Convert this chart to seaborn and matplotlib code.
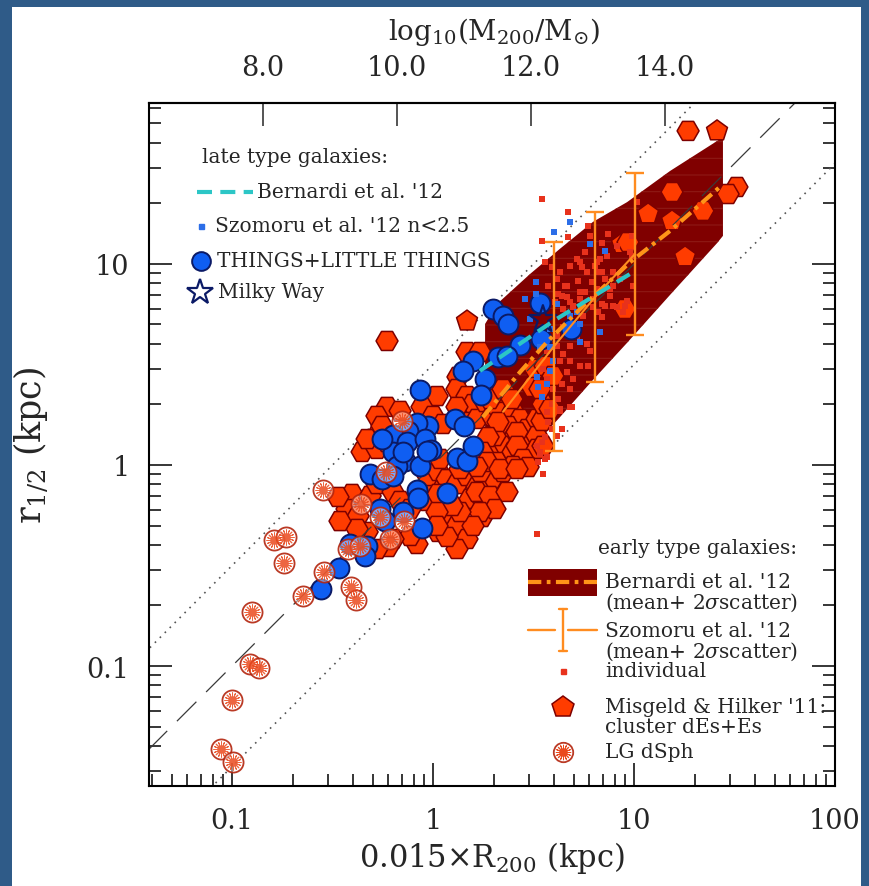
import numpy as np
import pandas as pd
import matplotlib
matplotlib.use("Agg")
import matplotlib.pyplot as plt
import seaborn as sns
from matplotlib.patches import Rectangle
from matplotlib.ticker import FixedLocator, FixedFormatter, LogLocator, NullLocator

# ---------------------------------------------------------------- data (dex)
# Misgeld & Hilker '11 cluster dEs + Es: log10(0.015 R200 / kpc), log10(r1/2 / kpc)
mh_log_r200 = [
    -0.353, -0.279, -0.279, -0.403, -0.428, -0.373, -0.313, -0.279, -0.199, -0.164,
    -0.114, -0.030, -0.005, -0.025, 0.025, 0.070, 0.119, 0.169, 0.244, 0.284,
    0.219, 0.184, 0.244, 0.284, 0.244, 0.085, 0.070, 0.119, 0.169, 0.119,
    0.025, 0.070, -0.080, -0.114, -0.199, -0.224, -0.279, -0.328, -0.378, -0.328,
    -0.229, 0.269, 0.294, 0.234, 0.134, 0.035, -0.229, -0.279, -0.254, 0.020,
    -0.055, 0.000, 0.050, 0.169, 0.124, 0.119, 0.169, 0.199, 0.169, 0.219,
    0.259, 0.294, 0.299, 0.119, -0.229, 0.169, -0.164, 0.308, 0.333, 0.398,
    0.433, 0.373, 0.468, 0.517, 0.398, 0.473, 0.517, 0.343, 0.308, 0.269,
    0.318, 0.398, 0.348, 0.234, 0.219, 0.284, 0.368, 0.308, 0.234, 0.199,
    0.134, 0.095, 0.025, 0.020, 0.020, 0.418, 0.517, 0.234, 0.284, 0.348,
    0.393, 0.323, 0.274, 0.418, 0.244, 0.448, 0.398, 0.473, 0.547, 0.542,
    0.547, 0.582, 0.507, 0.557, 0.597, 0.493, 0.532, 0.269, 0.333, 0.418,
    0.219, 1.269, 1.413, 1.512, 1.468, 1.189, 1.070, 1.189, 1.343, 0.940,
    0.970, 1.254, 0.955, -0.473, -0.463,
]
mh_log_rhalf = [
    0.065, 0.144, 0.080, -0.144, -0.219, -0.254, -0.154, -0.095, -0.134, -0.179,
    -0.219, -0.179, -0.109, -0.055, -0.030, -0.070, -0.095, -0.055, -0.045, -0.085,
    -0.109, -0.169, -0.169, -0.204, -0.259, -0.234, -0.279, -0.303, -0.368, -0.418,
    -0.333, -0.358, -0.393, -0.353, -0.368, -0.408, -0.418, -0.333, -0.318, 0.129,
    0.114, 0.095, 0.045, 0.015, -0.020, 0.030, 0.289, 0.244, 0.194, 0.343,
    0.289, 0.244, 0.204, 0.562, 0.438, 0.378, 0.343, 0.303, 0.214, 0.229,
    0.313, 0.244, 0.328, 0.289, 0.617, 0.716, 0.269, 0.343, 0.264, 0.269,
    0.229, 0.194, 0.179, 0.229, 0.129, 0.114, 0.144, 0.095, 0.144, 0.065,
    0.015, 0.065, -0.035, -0.035, -0.134, -0.154, -0.134, -0.219, -0.234, -0.303,
    -0.234, -0.204, -0.144, -0.234, -0.303, 0.164, 0.080, 0.562, 0.328, 0.378,
    0.328, 0.214, 0.139, 0.095, 0.065, 0.030, -0.005, -0.010, 0.095, 0.219,
    0.303, 0.279, 0.478, 0.493, 0.443, 0.388, 0.378, 0.015, -0.020, -0.020,
    -0.010, 1.662, 1.662, 1.383, 1.348, 1.358, 1.249, 1.214, 1.264, 1.100,
    1.109, 1.035, 0.776, -0.159, -0.279,
]
mh_morph = ["dE"] * len(mh_log_r200)
for i in (65, 122, 126, 127, 129, 131):
    mh_morph[i] = "E"

# THINGS + LITTLE THINGS late-type dwarfs and spirals
things_log_r200 = [
    0.299, 0.348, 0.373, 0.433, 0.323, 0.368, 0.199, 0.149, 0.259, 0.239,
    0.532, 0.537, 0.687, -0.065, 0.109, 0.154, -0.025, -0.080, -0.124, -0.199,
    -0.129, -0.040, -0.010, -0.199, -0.139, -0.065, -0.254, 0.119, 0.169, 0.199,
    0.070, -0.080, -0.075, -0.055, -0.149, -0.264, -0.239, -0.179, -0.313, -0.254,
    -0.199, -0.413, -0.328, -0.338, -0.468, -0.557, -0.149, -0.030,
]
things_log_rhalf = [
    0.776, 0.741, 0.701, 0.597, 0.537, 0.542, 0.517, 0.468, 0.428, 0.348,
    0.806, 0.627, 0.677, 0.373, 0.229, 0.194, 0.194, 0.209, 0.169, 0.149,
    0.114, 0.129, 0.075, 0.065, 0.020, -0.005, 0.129, 0.035, 0.020, 0.095,
    -0.139, -0.124, -0.164, -0.313, -0.234, -0.219, -0.279, -0.005, -0.045, -0.070,
    -0.055, -0.393, -0.403, -0.453, -0.512, -0.617, 0.065, 0.070,
]

# Local Group dwarf spheroidals
dsph_log_r200 = [
    -1.055, -0.995, -1.000, -0.910, -0.866, -0.900, -0.791, -0.731, -0.741, -0.647,
    -0.542, -0.408, -0.383, -0.547, -0.423, -0.363, -0.358, -0.264, -0.234, -0.214,
    -0.144, -0.154,
]
dsph_log_rhalf = [
    -1.413, -1.478, -1.169, -0.990, -1.010, -0.731, -0.373, -0.358, -0.488, -0.652,
    -0.532, -0.607, -0.672, -0.124, -0.418, -0.403, -0.194, -0.259, -0.035, -0.368,
    -0.279, 0.219,
]

# Szomoru et al. '12 individual galaxies: late type (n<2.5)
szo_late_log_r200 = [
    0.682, 0.602, 0.781, 0.856, 0.512, 0.512, 0.617, 0.582, 0.532, 0.582,
    0.597, 0.582, 0.567, 0.522, 0.517, 0.542, 0.731, 0.831, 0.731, 0.682,
    0.716, 0.458, 0.483,
]
szo_late_log_rhalf = [
    1.209, 1.159, 1.100, 1.065, 0.910, 0.851, 0.801, 0.677, 0.587, 0.587,
    0.517, 0.468, 0.403, 0.388, 0.438, 0.338, 0.701, 0.662, 0.612, 0.741,
    0.761, 0.826, 0.726,
]

# Szomoru et al. '12 individual galaxies: early type
szo_early_log_r200 = [
    0.622, 0.667, 0.682, 0.647, 0.697, 0.731, 0.756, 0.841, 0.881, 0.915,
    0.965, 0.692, 0.647, 0.617, 0.716, 0.766, 0.781, 0.682, 0.647, 0.617,
    0.567, 0.632, 0.682, 0.731, 0.771, 0.667, 0.697, 0.642, 0.597, 0.567,
    0.547, 0.682, 0.622, 0.592, 0.567, 0.682, 0.632, 0.572, 0.592, 0.557,
    0.542, 0.532, 0.567, 0.522, 0.617, 0.642, 0.841, 0.796, 0.542, 0.672,
    0.542, 0.672, 0.771, 0.557, 0.592, 0.632, 0.731, 0.766, 0.806, 0.831,
    0.866, 0.821, 0.856, 0.896, 0.930, 0.721, 0.667, 0.617, 0.572, 0.915,
    0.990, 1.015, 0.896, 0.642, 0.731, 0.796, 0.697, 0.607, 0.995, 0.945,
    0.896, 0.821, 0.746, 0.990, 0.781, 0.871, 0.841, 0.756, 0.716, 0.741,
    0.816, 0.841, 0.682, 0.791, 0.657, 0.816, 0.881, 0.955, 0.856, 0.980,
    0.547, 0.532, 0.517, 0.557, 0.517, 0.692, 0.632,
]
szo_early_log_rhalf = [
    0.851, 0.836, 0.811, 0.776, 0.786, 0.826, 0.861, 0.801, 0.841, 0.786,
    0.816, 0.711, 0.687, 0.642, 0.642, 0.602, 0.567, 0.592, 0.552, 0.592,
    0.567, 0.517, 0.517, 0.493, 0.493, 0.463, 0.428, 0.403, 0.378, 0.428,
    0.478, 0.378, 0.328, 0.303, 0.264, 0.289, 0.279, 0.214, 0.179, 0.139,
    0.114, 0.065, 0.040, 0.015, 0.144, 0.179, 0.736, 0.786, 1.323, 1.259,
    1.114, 1.134, 1.189, 1.010, 0.985, 0.960, 1.010, 0.960, 0.990, 1.025,
    1.040, 0.960, 0.925, 0.960, 0.925, 0.915, 0.891, 0.925, 0.891, 1.090,
    1.040, 1.308, 0.891, 0.841, 0.861, 0.826, 0.791, 0.811, 0.891, 0.761,
    0.791, 0.761, 0.741, 1.139, 1.139, 1.149, 1.104, 1.060, 1.025, 0.985,
    1.010, 0.960, 0.990, 0.910, 0.891, 0.876, 0.876, 0.791, 0.791, 1.060,
    -0.045, 0.055, -0.343, 0.030, 0.095, 0.289, 0.269,
]

# Szomoru et al. '12 binned mean + 2 sigma scatter (kpc)
szo_bin_r200 = [4.0, 6.4, 10.1]
szo_bin_mean = [3.9, 6.85, 11.2]
szo_bin_low = [1.17, 2.59, 4.43]
szo_bin_high = [12.9, 18.1, 28.4]
szo_line_r200 = [2.23, 4.0, 6.4, 10.1]
szo_line_rhalf = [1.84, 3.9, 6.85, 11.2]

# Bernardi et al. '12 early types: mean and 2 sigma envelope (kpc)
bern_band_r200 = [1.815, 2.08, 3.04, 4.28, 6.25, 9.23, 15.1, 25.9, 27.7]
bern_band_upper = [5.03, 6.32, 8.92, 11.9, 16.2, 20.3, 29.0, 40.9, 42.8]
bern_band_lower = [0.67, 0.78, 1.19, 1.73, 2.65, 4.05, 7.01, 12.7, 13.8]
bern_early_r200 = [1.77, 2.71, 3.69, 5.39, 9.55, 15.1, 26.8]
bern_early_rhalf = [1.73, 2.90, 4.09, 5.97, 10.2, 14.6, 24.2]

# Bernardi et al. '12 late types: mean relation (kpc)
bern_late_r200 = [1.71, 4.0, 9.9]
bern_late_rhalf = [2.94, 5.23, 9.12]

# Milky Way
mw_r200 = [3.52]
mw_rhalf = [5.30]

# r1/2 = 0.015 R200 and its +-0.5 dex envelope
ref_r200 = [0.01, 1000.0]
ref_offset_dex = 0.5

# Axis ticks
x_ticks = [0.1, 1, 10, 100]
x_tick_labels = ["0.1", "1", "10", "100"]
y_ticks = [0.1, 1, 10]
y_tick_labels = ["0.1", "1", "10"]
logm_ticks = [8.0, 10.0, 12.0, 14.0]
logm_tick_labels = ["8.0", "10.0", "12.0", "14.0"]
LOGM_ZERO = 10.537   # log10(M200/Msun) where 0.015 R200 = 1 kpc

# ---------------------------------------------------------------- style
FRAME_BLUE = "#2f5b88"
MAROON = "#800000"
BAND_LINE = "#8e1a16"
HEX_FILL = "#ff3c00"
HEX_EDGE = "#7d0000"
BLUE_FILL = "#0f5ef2"
NAVY = "#0b1a66"
SQ_RED = "#e8321c"
SQ_BLUE = "#2c6ee8"
ORANGE = "#ff9418"
ERR_ORANGE = "#ff8c20"
CYAN = "#2cc6c6"
DSPH_EDGE = (0.70, 0.14, 0.05, 0.9)
DSPH_SPOKE = "#ea4a1e"

sns.set_style("ticks")
plt.rcParams["font.family"] = ["DejaVu Serif"]
plt.rcParams["mathtext.fontset"] = "dejavuserif"
plt.rcParams["hatch.color"] = BAND_LINE
plt.rcParams["hatch.linewidth"] = 0.8

TICK_FS = 19.5
LABEL_FS = 22
LEG_FS = 14.5


def to_df(lx, ly, **extra):
    d = pd.DataFrame({"r200": 10 ** np.asarray(lx), "rhalf": 10 ** np.asarray(ly)})
    for k, v in extra.items():
        d[k] = v
    return d


mh = to_df(mh_log_r200, mh_log_rhalf, morph=mh_morph)
things = to_df(things_log_r200, things_log_rhalf)
dsph = to_df(dsph_log_r200, dsph_log_rhalf)
szo_late = to_df(szo_late_log_r200, szo_late_log_rhalf)
szo_early = to_df(szo_early_log_r200, szo_early_log_rhalf)

# ---------------------------------------------------------------- figure
fig = plt.figure(figsize=(8.7, 8.87), dpi=100)
fig.patch.set_facecolor(FRAME_BLUE)
fig.add_artist(Rectangle((12 / 870, 0), 849 / 870, 879 / 887, transform=fig.transFigure,
                         facecolor="white", edgecolor="none", zorder=-10))
ax = fig.add_axes([149 / 870, 100 / 887, 686 / 870, 683 / 887])
ax.set_facecolor("white")
ax.set_xscale("log")
ax.set_yscale("log")
ax.set_xlim(0.0386, 100)
ax.set_ylim(0.0253, 63.2)

# Bernardi early-type envelope (line-filled, as drawn by the plotting package)
ax.fill_between(bern_band_r200, bern_band_lower, bern_band_upper, facecolor=MAROON,
                edgecolor=BAND_LINE, hatch="-", linewidth=0, zorder=1)

# reference relations
ref = np.asarray(ref_r200)
ax.plot(ref, ref, color="#3a3a3a", lw=0.9, ls=(0, (22, 11)), zorder=4)
ax.plot(ref, ref * 10 ** ref_offset_dex, color="#555555", lw=1.2, ls=(0, (1, 3.2)), zorder=2)
ax.plot(ref, ref / 10 ** ref_offset_dex, color="#555555", lw=1.2, ls=(0, (1, 3.2)), zorder=2)

# Misgeld & Hilker cluster early types
sns.scatterplot(data=mh, x="r200", y="rhalf", style="morph", markers={"dE": "H", "E": "p"},
                s=250, color=HEX_FILL, edgecolor=HEX_EDGE, linewidth=1.1, legend=False,
                ax=ax, zorder=3)

# Szomoru individual early types
sns.scatterplot(data=szo_early, x="r200", y="rhalf", marker="s", s=13, color=SQ_RED,
                linewidth=0, legend=False, ax=ax, zorder=5)

# THINGS + LITTLE THINGS
sns.scatterplot(data=things, x="r200", y="rhalf", marker="o", s=205, color=BLUE_FILL,
                edgecolor=NAVY, linewidth=1.4, legend=False, ax=ax, zorder=6)

# Szomoru individual late types
sns.scatterplot(data=szo_late, x="r200", y="rhalf", marker="s", s=13, color=SQ_BLUE,
                linewidth=0, legend=False, ax=ax, zorder=7)

# LG dwarf spheroidals: ringed asterisks
sns.scatterplot(data=dsph, x="r200", y="rhalf", marker="o", s=210, facecolor=(1, 1, 1, 0.45),
                edgecolor=DSPH_EDGE, linewidth=1.3, legend=False, ax=ax, zorder=8)
sns.scatterplot(data=dsph, x="r200", y="rhalf", marker=(16, 2, 0), s=120, color=DSPH_SPOKE,
                linewidth=0.7, alpha=0.85, legend=False, ax=ax, zorder=8)

# Milky Way
sns.scatterplot(x=mw_r200, y=mw_rhalf, marker="*", s=420, facecolor="none", edgecolor=NAVY,
                linewidth=1.6, legend=False, ax=ax, zorder=9)

# mean relations
sns.lineplot(x=bern_early_r200, y=bern_early_rhalf, color=ORANGE, lw=3.0,
             ls=(0, (3.2, 1.3, 0.9, 1.3)), ax=ax, zorder=10)
sns.lineplot(x=szo_line_r200, y=szo_line_rhalf, color=ERR_ORANGE, lw=1.5, ax=ax, zorder=10)
sm = np.asarray(szo_bin_mean)
ax.errorbar(szo_bin_r200, sm, yerr=[sm - np.asarray(szo_bin_low), np.asarray(szo_bin_high) - sm],
            fmt="none", ecolor=ERR_ORANGE, elinewidth=1.7, capsize=6.5, capthick=1.7, zorder=11)
sns.lineplot(x=bern_late_r200, y=bern_late_rhalf, color=CYAN, lw=3.0, ls=(0, (3.6, 2.0)),
             ax=ax, zorder=12)

# ---------------------------------------------------------------- axes styling
for sp in ax.spines.values():
    sp.set_color("black")
    sp.set_linewidth(1.5)
    sp.set_zorder(20)

ax.xaxis.set_major_locator(FixedLocator(x_ticks))
ax.xaxis.set_major_formatter(FixedFormatter(x_tick_labels))
ax.xaxis.set_minor_locator(LogLocator(base=10, subs=np.arange(2, 10)))
ax.yaxis.set_major_locator(FixedLocator(y_ticks))
ax.yaxis.set_major_formatter(FixedFormatter(y_tick_labels))
ax.yaxis.set_minor_locator(LogLocator(base=10, subs=np.arange(2, 10)))
ax.tick_params(which="both", direction="in", color="black", width=1.1,
               top=False, bottom=True, left=True, right=True)
ax.tick_params(which="major", length=16.5)
ax.tick_params(which="minor", length=8.5)
ax.tick_params(axis="x", which="major", labelsize=TICK_FS, pad=15)
ax.tick_params(axis="y", which="major", labelsize=TICK_FS, pad=14)

ax.set_xlabel(r"0.015$\times$R$_{200}$ (kpc)", fontsize=LABEL_FS)
ax.xaxis.set_label_coords(0.5, -0.078)
ax.set_ylabel(r"r$_{1/2}$ (kpc)", fontsize=LABEL_FS + 3)
ax.yaxis.set_label_coords(-0.145, 0.5)


def r_to_logm(x):
    return 3.0 * np.log10(np.clip(x, 1e-12, None)) + LOGM_ZERO


def logm_to_r(m):
    return 10 ** ((np.asarray(m) - LOGM_ZERO) / 3.0)


secax = ax.secondary_xaxis("top", functions=(r_to_logm, logm_to_r))
secax.set_xticks(logm_ticks)
secax.set_xticklabels(logm_tick_labels)
secax.xaxis.set_minor_locator(NullLocator())
secax.tick_params(which="major", direction="in", length=16.5, width=1.1,
                  labelsize=TICK_FS, pad=16)
secax.spines["top"].set_linewidth(1.5)
secax.set_xlabel(r"log$_{10}$(M$_{200}$/M$_{\odot}$)", fontsize=LABEL_FS - 2)
secax.xaxis.set_label_coords(0.503, 1.094, transform=ax.transAxes)

# ---------------------------------------------------------------- legend keys
tA = ax.transAxes


def key_text(fx, fy, s):
    ax.text(fx, fy, s, transform=tA, ha="left", va="center", fontsize=LEG_FS, zorder=30)


key_text(0.077, 0.921, "late type galaxies:")
ax.plot([0.070, 0.152], [0.8697, 0.8697], transform=tA, color=CYAN, lw=3.0,
        ls=(0, (3.6, 2.0)), zorder=30)
key_text(0.157, 0.8697, "Bernardi et al. '12")
ax.plot([0.0758], [0.820], transform=tA, marker="s", ms=3.6, color=SQ_BLUE, ls="none", zorder=30)
key_text(0.096, 0.820, "Szomoru et al. '12 n<2.5")
ax.plot([0.0758], [0.7687], transform=tA, marker="o", ms=13.5, mfc=BLUE_FILL, mec=NAVY,
        mew=1.4, ls="none", zorder=30)
key_text(0.099, 0.7687, "THINGS+LITTLE THINGS")
ax.plot([0.0743], [0.7233], transform=tA, marker="*", ms=19, mfc="white", mec=NAVY,
        mew=1.6, ls="none", zorder=30)
key_text(0.100, 0.7233, "Milky Way")

key_text(0.6545, 0.3499, "early type galaxies:")
ax.add_patch(Rectangle((0.5525, 0.2782), 0.1006, 0.0395, transform=tA, facecolor=MAROON,
                       edgecolor="none", zorder=29))
ax.plot([0.5525, 0.6531], [0.2987, 0.2987], transform=tA, color=ORANGE, lw=3.0,
        ls=(0, (3.2, 1.3, 0.9, 1.3)), zorder=30)
key_text(0.6647, 0.2987, "Bernardi et al. '12")
key_text(0.6647, 0.2694, r"(mean+ 2$\sigma$scatter)")
ax.plot([0.5525, 0.5918], [0.2284, 0.2284], transform=tA, color=ERR_ORANGE, lw=1.7, zorder=30)
ax.plot([0.6108, 0.6531], [0.2284, 0.2284], transform=tA, color=ERR_ORANGE, lw=1.7, zorder=30)
ax.plot([0.6035, 0.6035], [0.1977, 0.2592], transform=tA, color=ERR_ORANGE, lw=1.7, zorder=30)
for cy in (0.1977, 0.2592):
    ax.plot([0.5975, 0.6095], [cy, cy], transform=tA, color=ERR_ORANGE, lw=1.7, zorder=30)
key_text(0.6647, 0.2284, "Szomoru et al. '12")
key_text(0.6647, 0.1977, r"(mean+ 2$\sigma$scatter)")
ax.plot([0.6035], [0.1684], transform=tA, marker="s", ms=3.6, color=SQ_RED, ls="none", zorder=30)
key_text(0.6647, 0.1684, "individual")
ax.plot([0.6035], [0.1157], transform=tA, marker="p", ms=16, mfc=HEX_FILL, mec=HEX_EDGE,
        mew=1.1, ls="none", zorder=30)
key_text(0.6647, 0.1157, "Misgeld & Hilker '11:")
key_text(0.6647, 0.0864, "cluster dEs+Es")
ax.plot([0.6035], [0.0498], transform=tA, marker="o", ms=14, mfc=(1, 1, 1, 0.45),
        mec=DSPH_EDGE, mew=1.3, ls="none", zorder=30)
ax.plot([0.6035], [0.0498], transform=tA, marker=(16, 2, 0), ms=11, mec=DSPH_SPOKE,
        mew=0.7, ls="none", zorder=30)
key_text(0.6647, 0.0498, "LG dSph")

fig.savefig("out.png", dpi=100, facecolor=fig.get_facecolor())
